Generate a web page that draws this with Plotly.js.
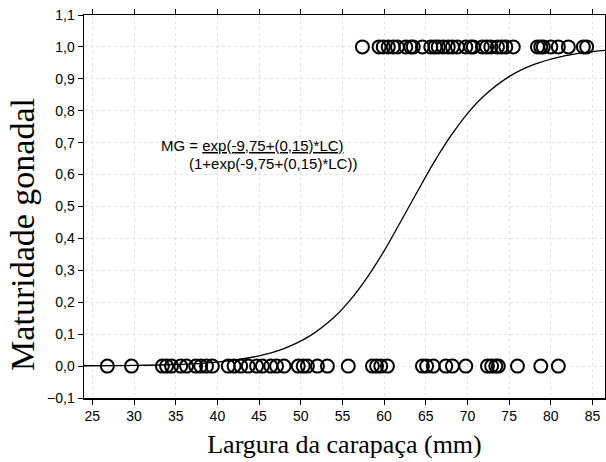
<!DOCTYPE html>
<html>
<head>
<meta charset="utf-8">
<script src="https://cdn.plot.ly/plotly-3.0.1.min.js"></script>
<style>html,body{margin:0;padding:0;background:#fff;}#chart{width:606px;height:462px;}</style>
</head>
<body>
<div id="chart"></div>
<script>
// Observed individuals: immature (0) and mature (1) by carapace width (mm)
var immatureLC = [26.8, 29.7, 33.4, 33.9, 34.5, 35.6, 36.3, 37.4, 38.0, 38.7, 39.4,
  41.3, 42.0, 42.8, 43.7, 44.7, 45.4, 46.4, 47.1, 48.0,
  49.7, 50.3, 50.8, 52.0, 53.2, 55.7, 58.6, 59.1, 59.6, 60.4,
  64.6, 65.1, 65.9, 67.4, 68.2, 69.8, 72.4, 72.9, 73.4, 73.7, 76.0, 78.8, 80.9];
var immatureMG = immatureLC.map(function(){ return 0; });

var matureLC = [57.4, 59.4, 59.9, 60.5, 61.1, 61.6, 62.6, 63.2, 63.5, 64.6, 65.6,
  66.1, 66.5, 67.1, 67.7, 68.2, 68.8, 69.8, 70.4, 70.7, 71.8, 72.3, 72.8, 73.6,
  74.1, 74.6, 75.5, 78.4, 78.8, 79.1, 80.0, 80.9, 82.1, 83.9, 84.3];
var matureMG = matureLC.map(function(){ return 1; });

// Fitted curve, values
var curveLC = [24, 30, 35, 40, 45, 48, 51, 54, 56, 58, 60, 62, 64, 66, 68, 70, 72, 75, 78, 81, 84, 86.5];
var curveMG = [0.001, 0.002, 0.005, 0.0125, 0.032, 0.055, 0.093, 0.153, 0.209, 0.279, 0.361,
  0.453, 0.547, 0.639, 0.721, 0.791, 0.847, 0.907, 0.945, 0.968, 0.982, 0.989];

var xTitle = 'Largura da carapaça (mm)';
var yTitle = 'Maturidade gonadal';
var eqLine1 = 'MG = <u>exp(-9,75+(0,15)*LC)</u>';
var eqLine2 = '(1+exp(-9,75+(0,15)*LC))';

var mk = {symbol: 'circle-open', size: 13, color: '#000', line: {width: 2, color: '#000'}};
var traces = [
  {x: curveLC, y: curveMG, mode: 'lines', line: {color: '#000', width: 1.3, shape: 'spline', smoothing: 1}, hoverinfo: 'skip'},
  {x: immatureLC, y: immatureMG, mode: 'markers', marker: mk},
  {x: matureLC, y: matureMG, mode: 'markers', marker: mk}
];

var axisCommon = {
  showline: true, linecolor: '#000', linewidth: 1.5, mirror: 'ticks',
  ticks: 'outside', ticklen: 5, tickcolor: '#000',
  showgrid: true, gridcolor: '#e2e2e2', griddash: 'dot', gridwidth: 1,
  zeroline: false,
  tickfont: {family: 'Liberation Sans, Arial, sans-serif', size: 14, color: '#000'}
};

var layout = {
  width: 606, height: 462,
  margin: {l: 84, r: 1, t: 15, b: 64},
  paper_bgcolor: '#fff', plot_bgcolor: '#fff',
  showlegend: false,
  separators: ',.',
  xaxis: Object.assign({}, axisCommon, {
    range: [24, 86.5], tick0: 25, dtick: 5,
    title: {text: xTitle, font: {family: 'Liberation Serif, Times New Roman, serif', size: 26, color: '#000'}, standoff: 11}
  }),
  yaxis: Object.assign({}, axisCommon, {
    range: [-0.1, 1.1], tick0: -0.1, dtick: 0.1, tickformat: '.1f'
  }),
  annotations: [
    {x: -0.117, y: 0.426, xref: 'paper', yref: 'paper', text: yTitle, textangle: -90, showarrow: false,
     xanchor: 'center', yanchor: 'middle',
     font: {family: 'Liberation Serif, Times New Roman, serif', size: 34, color: '#000'}},
    {x: 32.95, y: 0.69, xref: 'x', yref: 'y', text: eqLine1, showarrow: false, xanchor: 'left', yanchor: 'middle',
     font: {family: 'Liberation Sans, Arial, sans-serif', size: 15, color: '#000'}},
    {x: 36.3, y: 0.636, xref: 'x', yref: 'y', text: eqLine2, showarrow: false, xanchor: 'left', yanchor: 'middle',
     font: {family: 'Liberation Sans, Arial, sans-serif', size: 15, color: '#000'}}
  ]
};

Plotly.newPlot('chart', traces, layout, {staticPlot: true, displayModeBar: false});
</script>
</body>
</html>
